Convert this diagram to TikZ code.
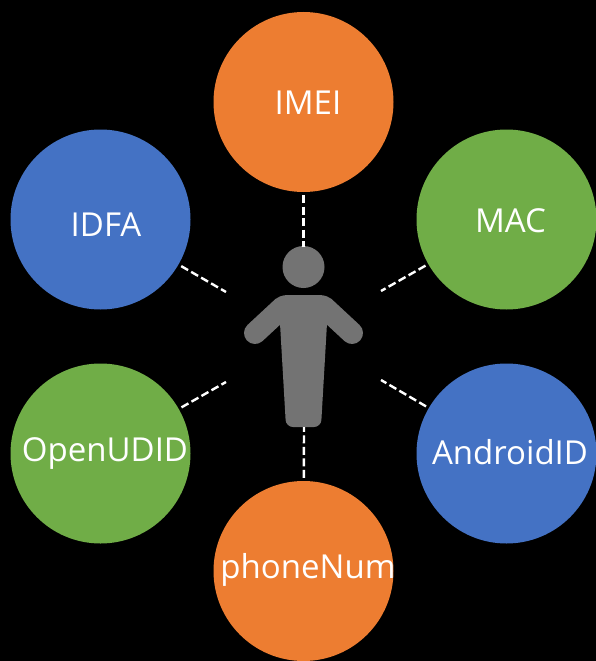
\documentclass[tikz,border=0pt]{standalone}
\usepackage{fontspec}
\setmainfont{Open Sans}
\definecolor{cblue}{HTML}{4472C4}
\definecolor{cgreen}{HTML}{70AD47}
\definecolor{corange}{HTML}{ED7D31}
\definecolor{cgray}{HTML}{737373}
\tikzset{x=1pt,y=-1pt,
 idnode/.style={circle,minimum size=180pt,inner sep=0pt},
 idtext/.style={text=white,inner sep=0pt,font=\fontsize{33}{38}\selectfont},
 link/.style={draw=white,line width=2.4pt,dash pattern=on 8pt off 3.5pt,shorten <=3pt}}
\begin{document}
\begin{tikzpicture}
\useasboundingbox (0,0) rectangle (596,661);
\fill[black] (0,0) rectangle (596,661);
\node[idnode,fill=corange] (imei) at (303.5,102) {};
\node[idnode,fill=cblue] (idfa) at (100.5,219.5) {};
\node[idnode,fill=cgreen] (mac) at (506.5,219.5) {};
\node[idnode,fill=cgreen] (open) at (100.5,453.5) {};
\node[idnode,fill=cblue] (android) at (506.5,453.5) {};
\node[idnode,fill=corange] (phone) at (303.5,571) {};
\node[idtext] (timei) at (308,102.5) {IMEI};
\node[idtext] (tidfa) at (106,224.5) {IDFA};
\node[idtext] (tmac) at (510.5,220.5) {MAC};
\node[idtext] (topen) at (105,453.5) {OpenUDID};
\node[idtext] (tandroid) at (510,452.5) {AndroidID};
\node[idtext] (tphone) at (308,569.5) {phoneNum};
\coordinate (pa) at (303.5,247);
\coordinate (pb) at (226,292);
\coordinate (pc) at (381,291);
\coordinate (pd) at (226,382);
\coordinate (pe) at (381,380);
\coordinate (pf) at (304,427);
\fill[cgray] (303.5,267) circle (21);
\draw[cgray,line width=22pt,line cap=round,line join=round] (255,333) -- (283,307) .. controls (285,306) and (287,306) .. (290,306) -- (317,306) .. controls (320,306) and (322,306) .. (324,307) -- (352,333);
\fill[cgray,rounded corners=7pt] (279,306) -- (328,306) -- (321,427) -- (286,427) -- cycle;
\draw[link] (imei) -- (pa);
\draw[link] (idfa) -- (pb);
\draw[link] (mac) -- (pc);
\draw[link] (open) -- (pd);
\draw[link] (android) -- (pe);
\draw[link] (phone) -- (pf);
\end{tikzpicture}
\end{document}
